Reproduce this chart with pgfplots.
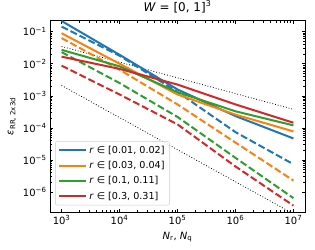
\documentclass[border=0pt]{standalone}
\usepackage{fontspec}
\setmainfont{DejaVu Sans}
\usepackage{pgfplots}
\pgfplotsset{compat=1.18}
\definecolor{tabblue}{HTML}{1F77B4}
\definecolor{taborange}{HTML}{FF7F0E}
\definecolor{tabgreen}{HTML}{2CA02C}
\definecolor{tabred}{HTML}{D62728}
\begin{document}
\begin{tikzpicture}
\path[use as bounding box] (-50pt,-37pt) rectangle (265pt,212pt);
\begin{axis}[
  at={(0,0)}, anchor=south west,
  scale only axis, width=255pt, height=191.3pt,
  xmode=log, ymode=log,
  xmin=631, xmax=1.585e7, ymin=2.4e-7, ymax=0.219,
  xtick={1e3,1e4,1e5,1e6,1e7},
  xticklabels={10\textsuperscript{3},10\textsuperscript{4},10\textsuperscript{5},10\textsuperscript{6},10\textsuperscript{7}},
  ytick={1e-6,1e-5,1e-4,1e-3,1e-2,1e-1},
  yticklabels={10\textsuperscript{−6},10\textsuperscript{−5},10\textsuperscript{−4},10\textsuperscript{−3},10\textsuperscript{−2},10\textsuperscript{−1}},
  tick label style={font=\fontsize{10}{12}\selectfont},
  major tick length=3.5pt, minor tick length=2pt,
  tick align=inside,
  every tick/.style={black, line width=0.6pt},
  axis line style={line width=0.7pt},
  title={\textit{W} = [0, 1]\textsuperscript{3}},
  title style={font=\fontsize{12}{14}\selectfont, at={(axis description cs:0.5,1.042)}, anchor=center},
  xlabel={\textit{N}\textsubscript{r}, \textit{N}\textsubscript{q}},
  xlabel style={font=\fontsize{10}{12}\selectfont, at={(axis description cs:0.5,-0.131)}, anchor=center},
  ylabel={\textit{ε}\textsubscript{RR, 2x3d}},
  ylabel style={font=\fontsize{10}{12}\selectfont, at={(axis description cs:-0.149,0.5)}, anchor=center},
  legend style={at={(axis description cs:0.02,0.035)}, anchor=south west,
    font=\fontsize{9.6}{11}\selectfont, draw=black!20, rounded corners=2pt,
    fill=white, fill opacity=0.8, text opacity=1, row sep=2.5pt,
    inner xsep=3pt, inner ysep=2.5pt},
  legend cell align=left,
  legend image code/.code={\draw[#1] (0pt,0pt) -- (27pt,0pt);},
]
\addlegendimage{tabblue, line width=2pt}
\addlegendentry{\textit{r} ∈ [0.01, 0.02]}
\addlegendimage{taborange, line width=2pt}
\addlegendentry{\textit{r} ∈ [0.03, 0.04]}
\addlegendimage{tabgreen, line width=2pt}
\addlegendentry{\textit{r} ∈ [0.1, 0.11]}
\addlegendimage{tabred, line width=2pt}
\addlegendentry{\textit{r} ∈ [0.3, 0.31]}
% reference slopes
\addplot[black, dotted, line width=0.8pt, forget plot] coordinates {(1e3,0.0346) (1e7,3.8e-4)};
\addplot[black, dotted, line width=0.8pt, forget plot] coordinates {(1e3,2.1e-3) (1e7,2.1e-7)};
% blue
\addplot[tabblue, line width=2pt, forget plot] coordinates {(1e3,0.214) (1e4,0.019) (1e5,1.58e-3) (1e6,2.34e-4) (1e7,4.7e-5)};
\addplot[tabblue, line width=2pt, dash pattern=on 7pt off 3pt, forget plot] coordinates {(1e3,0.143) (1e4,0.0178) (1e5,1.32e-3) (1e6,7.4e-5) (1e7,7.4e-6)};
% orange
\addplot[taborange, line width=2pt, forget plot] coordinates {(1e3,0.089) (1e4,0.010) (1e5,1.1e-3) (1e6,2.6e-4) (1e7,7.8e-5)};
\addplot[taborange, line width=2pt, dash pattern=on 7pt off 3pt, forget plot] coordinates {(1e3,0.063) (1e4,6.5e-3) (1e5,5.4e-4) (1e6,3.5e-5) (1e7,2.3e-6)};
% green
\addplot[tabgreen, line width=2pt, forget plot] coordinates {(1e3,0.027) (1e4,8.3e-3) (1e5,1.3e-3) (1e6,3.3e-4) (1e7,1.2e-4)};
\addplot[tabgreen, line width=2pt, dash pattern=on 7pt off 3pt, forget plot] coordinates {(1e3,0.023) (1e4,2.5e-3) (1e5,2.2e-4) (1e6,1.17e-5) (1e7,6.5e-7)};
% red
\addplot[tabred, line width=2pt, forget plot] coordinates {(1e3,0.0166) (1e4,6.9e-3) (1e5,2.24e-3) (1e6,5.4e-4) (1e7,1.45e-4)};
\addplot[tabred, line width=2pt, dash pattern=on 7pt off 3pt, forget plot] coordinates {(1e3,8.7e-3) (1e4,1.1e-3) (1e5,1.29e-4) (1e6,6.3e-6) (1e7,3.8e-7)};
\end{axis}
\end{tikzpicture}
\end{document}
